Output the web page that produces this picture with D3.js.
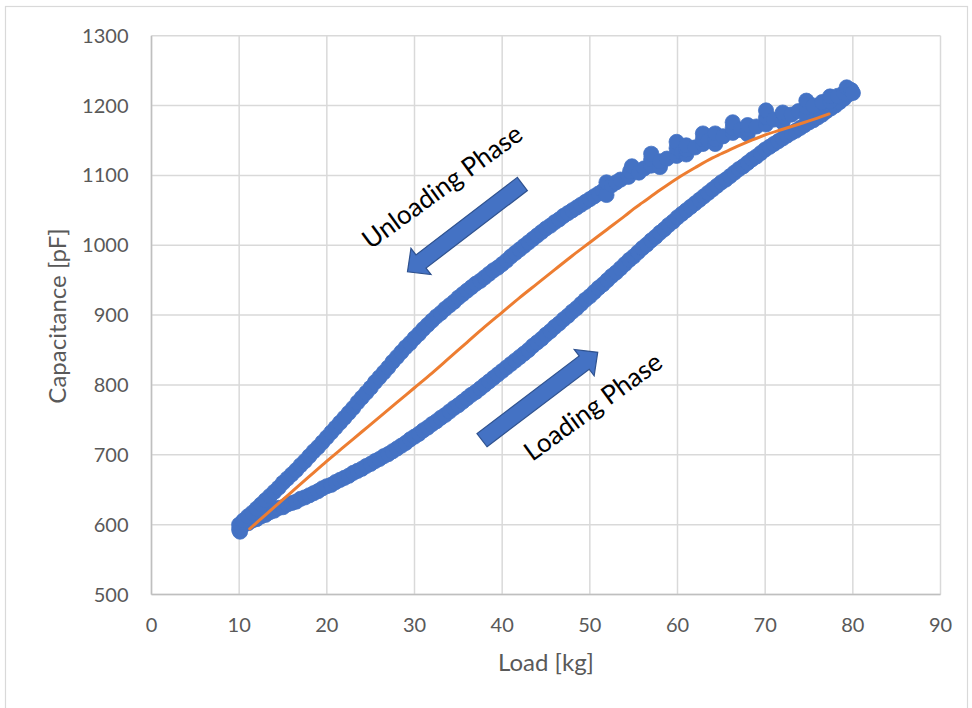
<!DOCTYPE html>
<html><head><meta charset="utf-8">
<script src="https://cdn.jsdelivr.net/npm/d3@7"></script>
<style>body{margin:0;background:#fff}svg{display:block}</style>
</head><body>
<svg id="chart" width="972" height="708"></svg>
<script>
const xTicks=[0,10,20,30,40,50,60,70,80,90];
const yTicks=[500,600,700,800,900,1000,1100,1200,1300];
const xTitle="Load [kg]";
const yTitle="Capacitance [pF]";

// Loading phase (lower branch) [load kg, capacitance pF]
const loading=[[10.1,590],[10,593],[10.3,598],[10.6,601],[11,602],[11.5,606],[12,608],[12.5,612],[13,614],[13.5,618],[14,620],[14.5,624],[15,625],[15.5,629],[16,631],[16.5,633],[17,637],[17.5,639],[18,642],[18.5,645],[19,648],[19.5,652],[20,655],[20.5,657],[21,661],[21.5,664],[22,667],[22.5,670],[23,674],[23.5,677],[24,680],[24.5,684],[25,687],[25.5,691],[26,694],[26.5,698],[27,701],[27.5,705],[28,709],[28.5,713],[29,717],[29.5,722],[30,726],[30.5,730],[31,735],[31.5,739],[32,744],[32.5,748],[33,753],[33.5,757],[34,762],[34.5,767],[35,771],[35.5,776],[36,781],[36.5,786],[37,790],[37.5,795],[38,800],[38.5,805],[39,810],[39.5,815],[40,820],[40.5,825],[41,830],[41.5,835],[42,840],[42.5,845],[43,850],[43.5,856],[44,861],[44.5,866],[45,872],[45.5,877],[46,883],[46.5,888],[47,894],[47.5,899],[48,905],[48.5,910],[49,916],[49.5,922],[50,927],[50.5,933],[51,939],[51.5,944],[52,950],[52.5,956],[53,961],[53.5,967],[54,973],[54.5,979],[55,984],[55.5,990],[56,996],[56.5,1001],[57,1007],[57.5,1012],[58,1018],[58.5,1023],[59,1029],[59.5,1034],[60,1040],[60.5,1045],[61,1050],[61.5,1055],[62,1060],[62.5,1065],[63,1070],[63.5,1075],[64,1080],[64.5,1085],[65,1090],[65.5,1094],[66,1099],[66.5,1104],[67,1109],[67.5,1113],[68,1118],[68.5,1123],[69,1127],[69.5,1132],[70,1137],[70.5,1141],[71,1145],[71.5,1149],[72,1153],[72.5,1157],[73,1161],[73.5,1164],[74,1168],[74.5,1172],[75,1176],[75.5,1179],[76,1183],[76.5,1187],[77,1192],[77.5,1196],[78,1200],[78.5,1205],[79,1210],[79.5,1216],[79.8,1222]];

// Unloading phase (upper branch) [load kg, capacitance pF]
const unloading=[[10,600],[10.2,596],[10.4,604],[10.5,606],[11,612],[11.5,617],[12,623],[12.5,629],[13,635],[13.5,641],[14,647],[14.5,653],[15,660],[15.5,666],[16,672],[16.5,678],[17,685],[17.5,691],[18,698],[18.5,705],[19,711],[19.5,718],[20,725],[20.5,732],[21,739],[21.5,746],[22,753],[22.5,760],[23,767],[23.5,775],[24,782],[24.5,789],[25,796],[25.5,804],[26,811],[26.5,818],[27,825],[27.5,833],[28,840],[28.5,847],[29,854],[29.5,860],[30,867],[30.5,873],[31,880],[31.5,886],[32,892],[32.5,898],[33,903],[33.5,909],[34,914],[34.5,919],[35,925],[35.5,930],[36,935],[36.5,940],[37,945],[37.5,949],[38,954],[38.5,959],[39,964],[39.5,968],[40,973],[40.5,978],[41,984],[41.5,989],[42,994],[42.5,999],[43,1004],[43.5,1009],[44,1014],[44.5,1019],[45,1024],[45.5,1028],[46,1033],[46.5,1037],[47,1042],[47.5,1046],[48,1050],[48.5,1054],[49,1058],[49.5,1062],[50,1066],[50.5,1070],[51,1074],[51.5,1078],[51.9,1072],[51.9,1090],[52.5,1086],[53,1090],[53.5,1094],[54.4,1098],[54.6,1106],[54.8,1113],[55.6,1104],[56.2,1110],[57,1114],[57,1123],[57,1131],[58,1112],[58,1120],[58.8,1124],[59.9,1128],[59.9,1139],[59.9,1148],[60.5,1133],[61,1130],[61,1137],[61,1143],[62,1140],[62.9,1145],[62.9,1152],[62.9,1160],[63.5,1150],[64.3,1145],[64.3,1152],[64.3,1160],[65.2,1156],[66.3,1161],[66.3,1168],[66.3,1176],[67.2,1165],[68,1159],[68,1166],[68,1172],[69,1170],[70.1,1173],[70.1,1183],[70.1,1193],[71,1180],[72,1176],[72.2,1184],[72,1190],[73,1187],[73.8,1192],[74.7,1188],[74.7,1198],[74.7,1207],[75.5,1200],[76.5,1205],[77.4,1206],[77.4,1213],[78.3,1214],[79,1218],[79.3,1226],[79.8,1222],[80,1218]];

// Average (fit) curve [load kg, capacitance pF]
const fitCurve=[[11.2,594],[12,603],[14,625],[16,647],[18,669],[20,691],[22,712],[24,733],[26,754],[28,775],[30,796],[32,817],[34,839],[36,861],[38,883],[40,904],[42,925],[44,945],[46,965],[48,985],[50,1004],[52,1023],[54,1042],[55,1052],[56,1061],[58,1079],[60,1096],[62,1111],[64,1125],[65,1131],[66,1137],[68,1148],[70,1158],[72,1166],[74,1174],[75,1178],[77.3,1188]];

const annotations=[
  {label:"Unloading Phase", tail:[42.3,1087.7], tip:[29.2,962], text:[33.1,1085]},
  {label:"Loading Phase", tail:[37.7,721], tip:[50.9,846.7], text:[50.3,770]}
];

const svg=d3.select("#chart");
const L=151.5,R=940.5,T=35.7,B=594.5;
const x=d3.scaleLinear().domain([0,90]).range([L,R]);
const y=d3.scaleLinear().domain([500,1300]).range([B,T]);
const font="Lato, 'Open Sans', sans-serif";

svg.append("rect").attr("x",5.5).attr("y",6.5).attr("width",962).attr("height",720)
  .attr("fill","#fff").attr("stroke","#d9d9d9").attr("stroke-width",1.2);

// gridlines
const g=svg.append("g");
g.selectAll(".vg").data(xTicks).join("line").attr("x1",d=>x(d)).attr("x2",d=>x(d))
  .attr("y1",T).attr("y2",B).attr("stroke","#d9d9d9").attr("stroke-width",1.5);
g.selectAll(".hg").data(yTicks).join("line").attr("y1",d=>y(d)).attr("y2",d=>y(d))
  .attr("x1",L).attr("x2",R).attr("stroke","#d9d9d9").attr("stroke-width",1.5);
// axis lines
svg.append("line").attr("x1",L).attr("x2",R).attr("y1",B).attr("y2",B).attr("stroke","#bfbfbf").attr("stroke-width",1.5);
svg.append("line").attr("x1",L).attr("x2",L).attr("y1",T).attr("y2",B).attr("stroke","#bfbfbf").attr("stroke-width",1.5);

// tick labels
svg.selectAll(".xt").data(xTicks).join("text").attr("x",d=>x(d)).attr("y",B+37)
  .attr("text-anchor","middle").attr("font-family",font).attr("font-size",20).attr("fill","#595959").text(d=>d);
svg.selectAll(".yt").data(yTicks).join("text").attr("x",L-23).attr("y",d=>y(d)+7)
  .attr("text-anchor","end").attr("font-family",font).attr("font-size",20).attr("fill","#595959").text(d=>d);

// titles
svg.append("text").attr("x",546).attr("y",671).attr("text-anchor","middle")
  .attr("font-family",font).attr("font-size",24).attr("fill","#595959").text(xTitle);
svg.append("text").attr("transform",`translate(66,316) rotate(-90)`).attr("text-anchor","middle")
  .attr("font-family",font).attr("font-size",24).attr("fill","#595959").text(yTitle);

// points
const blue="#4472C4";
svg.append("g").selectAll("circle").data(loading.concat(unloading)).join("circle")
  .attr("cx",d=>x(d[0])).attr("cy",d=>y(d[1])).attr("r",7.6)
  .attr("fill",blue).attr("stroke",blue).attr("stroke-width",0.8);

// fit line
svg.append("path").datum(fitCurve).attr("d",d3.line().curve(d3.curveMonotoneX).x(d=>x(d[0])).y(d=>y(d[1])))
  .attr("fill","none").attr("stroke","#ED7D31").attr("stroke-width",3).attr("stroke-linecap","round").attr("stroke-linejoin","round");

// arrows
function arrowPath(t0,t1){
  const ax=x(t0[0]),ay=y(t0[1]),bx=x(t1[0]),by=y(t1[1]);
  const len=Math.hypot(bx-ax,by-ay), ux=(bx-ax)/len, uy=(by-ay)/len, px=-uy, py=ux;
  const bw=8.3, hw=16.5, hl=17;
  const hx=bx-ux*hl, hy=by-uy*hl;
  const pts=[[ax+px*bw,ay+py*bw],[hx+px*bw,hy+py*bw],[hx+px*hw,hy+py*hw],[bx,by],
    [hx-px*hw,hy-py*hw],[hx-px*bw,hy-py*bw],[ax-px*bw,ay-py*bw]];
  return "M"+pts.map(p=>p.join(",")).join("L")+"Z";
}
annotations.forEach(a=>{
  svg.append("path").attr("d",arrowPath(a.tail,a.tip)).attr("fill",blue).attr("stroke","#2F528F").attr("stroke-width",1.2);
  svg.append("text").attr("transform",`translate(${x(a.text[0])},${y(a.text[1])}) rotate(-36)`)
    .attr("text-anchor","middle").attr("dominant-baseline","central")
    .attr("font-family",font).attr("font-size",26).attr("fill","#000").text(a.label);
});
</script>
</body></html>
